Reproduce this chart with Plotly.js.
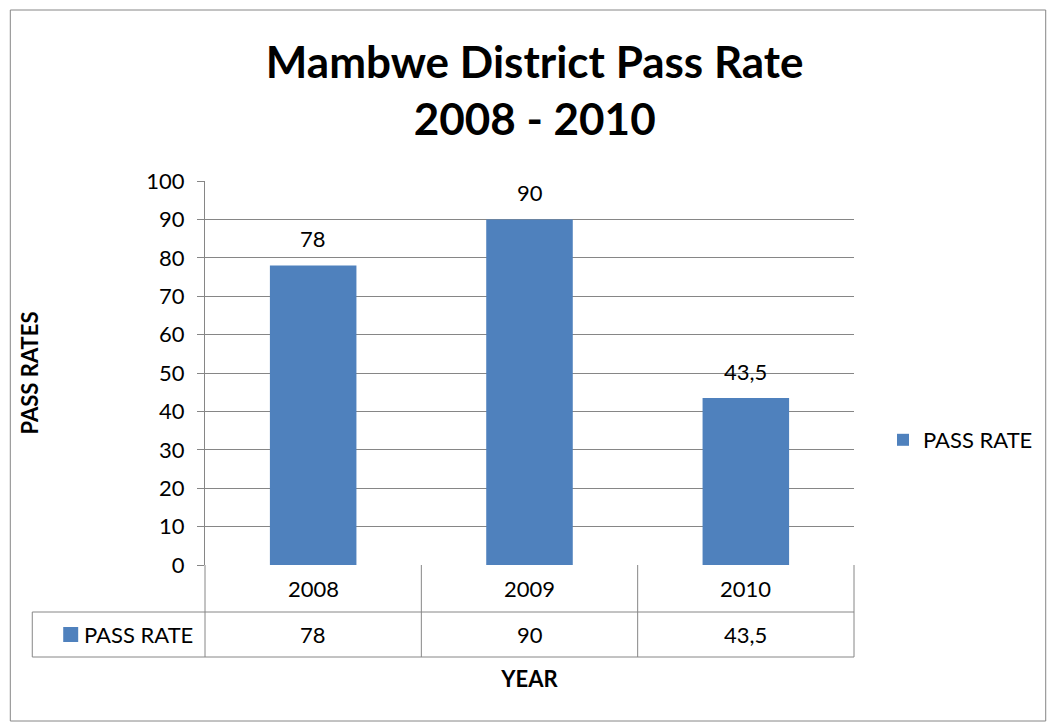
<!DOCTYPE html>
<html><head><meta charset="utf-8">
<script src="https://cdn.plot.ly/plotly-3.0.1.min.js"></script>
<style>html,body{margin:0;padding:0;background:#fff}</style>
</head><body>
<div id="chart" style="width:1049px;height:722px"></div>
<script>
const years = ['2008', '2009', '2010'];
const passRate = [78, 90, 43.5];
const seriesName = 'PASS RATE';
const titleText = 'Mambwe District Pass Rate<br>2008 - 2010';
const yTitle = 'PASS RATES';
const xTitle = 'YEAR';

const FONT = 'Lato, "Open Sans", sans-serif';
const GRID = '#868686';
const BAR = '#4F81BD';
const FS = 22;

// geometry helpers (pixels -> paper)
const W = 1049, H = 722, L = 205, R = 855, T = 181, B = 565;
const px = p => (p - L) / (R - L);
const py = p => (B - p) / (B - T);
const fmt = v => String(v).replace('.', ',');

const n = years.length;
const shapes = [];
const lineStyle = {color: GRID, width: 1};
// outer chart border
shapes.push({type: 'rect', xref: 'paper', yref: 'paper', x0: px(10), x1: px(1047), y0: py(721), y1: py(10), line: lineStyle});
// data table grid
const r1top = py(565), r1bot = py(612), r2bot = py(657);
shapes.push({type: 'line', xref: 'paper', yref: 'paper', x0: 0, x1: 1, y0: r1bot, y1: r1bot, line: lineStyle});
shapes.push({type: 'line', xref: 'paper', yref: 'paper', x0: px(32), x1: 1, y0: r2bot, y1: r2bot, line: lineStyle});
shapes.push({type: 'line', xref: 'paper', yref: 'paper', x0: px(32), x1: 0, y0: r1bot, y1: r1bot, line: lineStyle});
shapes.push({type: 'line', xref: 'paper', yref: 'paper', x0: px(32), x1: px(32), y0: r1bot, y1: r2bot, line: lineStyle});
for (let i = 0; i <= n; i++) {
  const x = i / n;
  shapes.push({type: 'line', xref: 'paper', yref: 'paper', x0: x, x1: x, y0: r1top, y1: r2bot, line: lineStyle});
}
// legend key in table
shapes.push({type: 'rect', xref: 'paper', yref: 'paper', x0: px(63), x1: px(78), y0: py(642), y1: py(627), fillcolor: BAR, line: {width: 0}});

const annotations = [];
years.forEach((y, i) => {
  const xc = (i + 0.5) / n;
  annotations.push({xref: 'paper', yref: 'paper', x: xc, y: (r1top + r1bot) / 2, text: y, showarrow: false,
    xanchor: 'center', yanchor: 'middle', font: {family: FONT, size: FS, color: '#000'}});
  annotations.push({xref: 'paper', yref: 'paper', x: xc, y: (r1bot + r2bot) / 2, text: fmt(passRate[i]), showarrow: false,
    xanchor: 'center', yanchor: 'middle', font: {family: FONT, size: FS, color: '#000'}});
  // data label above bar
  annotations.push({xref: 'x', yref: 'y', x: i, y: passRate[i], text: fmt(passRate[i]), showarrow: false,
    xanchor: 'center', yanchor: 'bottom', yshift: 11, font: {family: FONT, size: FS, color: '#000'}});
});
annotations.push({xref: 'paper', yref: 'paper', x: px(82), y: (r1bot + r2bot) / 2, text: seriesName, showarrow: false,
  xanchor: 'left', yanchor: 'middle', font: {family: FONT, size: FS, color: '#000'}});

const trace = {
  type: 'bar', x: years, y: passRate, name: seriesName,
  marker: {color: BAR, line: {width: 0}},
  width: 0.4,
  hoverinfo: 'none'
};

const layout = {
  width: W, height: H,
  margin: {l: L, r: W - R, t: T, b: H - B, pad: 0},
  paper_bgcolor: '#fff', plot_bgcolor: '#fff',
  font: {family: FONT, size: FS, color: '#000'},
  separators: ', ',
  title: {text: titleText, font: {family: FONT, size: 44, color: '#000', weight: 'bold'},
    x: 0.508, xanchor: 'center', xref: 'paper', y: 1 - 78 / H, yref: 'container', yanchor: 'middle'},
  xaxis: {type: 'category', range: [-0.5, n - 0.5], showticklabels: false, ticks: '', showgrid: false,
    showline: false, zeroline: false, fixedrange: true,
    title: {text: xTitle, font: {family: FONT, size: FS, weight: 'bold'}, standoff: 106}},
  yaxis: {range: [0, 100], dtick: 10, showgrid: true, gridcolor: GRID, gridwidth: 1,
    showline: true, linecolor: GRID, linewidth: 1, ticks: 'outside', ticklen: 7, tickcolor: GRID,
    ticklabelstandoff: 8, zeroline: false, tickfont: {family: FONT, size: FS},
    title: {text: yTitle, font: {family: FONT, size: FS, weight: 'bold'}, standoff: 101}},
  showlegend: true,
  legend: {x: px(883), y: py(440), xanchor: 'left', yanchor: 'middle', font: {family: FONT, size: FS},
    bgcolor: 'rgba(0,0,0,0)', itemwidth: 30},
  bargap: 0.6,
  shapes: shapes, annotations: annotations
};

Plotly.newPlot('chart', [trace], layout, {displayModeBar: false, staticPlot: true});
</script>
</body></html>
